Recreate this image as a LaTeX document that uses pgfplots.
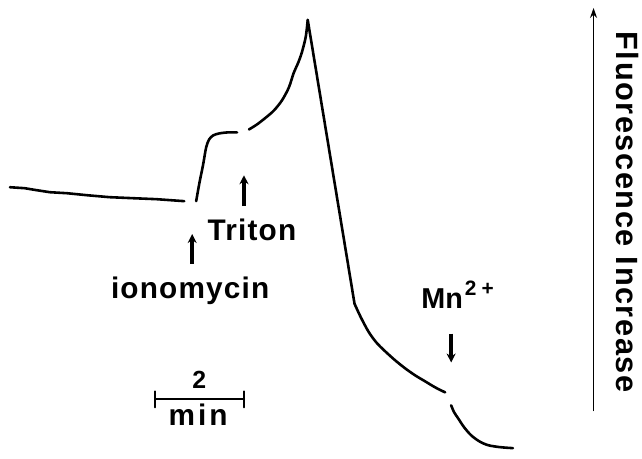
\documentclass[border=0pt]{standalone}
\usepackage{fontspec}
\setmainfont{Liberation Sans}
\usepackage{pgfplots}
\pgfplotsset{compat=1.18}
\usetikzlibrary{arrows.meta}
\begin{document}
\begin{tikzpicture}
\begin{axis}[
  scale only axis, width=642bp, height=460bp,
  xmin=0, xmax=642, ymin=0, ymax=460, y dir=reverse,
  hide axis, clip=false,
]
\path (rel axis cs:0,0) rectangle (rel axis cs:1,1);
\pgfplotsset{tr/.style={black, line width=2.6bp, line cap=round, line join=round, mark=none}}
% baseline
\addplot[tr] coordinates {(10,188) (25,189) (37,191) (50,193) (67,194) (87,196) (110,198) (133,199) (157,200) (185,202)};
% ionomycin rise
\addplot[tr, smooth, tension=0.5] coordinates {(197,202) (200,185) (204,165) (207,148) (210,140) (214,136) (220,134) (228,133) (238,133)};
% triton rise to peak
\addplot[tr, smooth, tension=0.5] coordinates {(250,130) (258,125) (267,118) (275,111) (283,101) (290,88) (295,73) (299,64) (303,53) (307,37) (309,20)};
% drop
\addplot[tr] coordinates {(309,20) (356,305)};
\addplot[tr, smooth, tension=0.5] coordinates {(356,305) (362,318) (370,333) (378,344) (387,353) (397,362) (407,370) (417,377) (427,383) (437,389) (447,394)};
% after Mn
\addplot[tr, smooth, tension=0.5] coordinates {(453,407) (456,414) (460,420) (466,429) (473,437) (481,443) (490,447) (502,449) (515,450)};
% scale bar
\addplot[tr, line width=2.2bp] coordinates {(156,401) (245,401)};
\addplot[tr, line width=2.2bp] coordinates {(156,393) (156,409)};
\addplot[tr, line width=2.2bp] coordinates {(245,393) (245,409)};
% event arrows
\draw[black, line width=3.6bp, -{Stealth[length=9bp,width=9bp]}] (axis cs:245,207) -- (axis cs:245,176);
\draw[black, line width=3.6bp, -{Stealth[length=9bp,width=9bp]}] (axis cs:193,265) -- (axis cs:193,235);
\draw[black, line width=3.6bp, -{Stealth[length=9bp,width=9bp]}] (axis cs:453,335) -- (axis cs:453,364);
\draw[black, line width=1.6bp, -{Stealth[length=10bp,width=7bp]}] (axis cs:596,413) -- (axis cs:596,8);
% labels
\node[font=\fontsize{30}{34}\selectfont\bfseries\addfontfeatures{LetterSpace=4}] at (axis cs:253,231) {Triton};
\node[font=\fontsize{30}{34}\selectfont\bfseries\addfontfeatures{LetterSpace=4}] at (axis cs:191,292) {ionomycin};
\node[font=\fontsize{29}{34}\selectfont\bfseries, anchor=base west, inner sep=0pt] at (axis cs:423,310) {Mn\hspace{2bp}\raisebox{13bp}{\fontsize{21}{22}\selectfont\bfseries 2\hspace{5bp}+}};
\node[font=\fontsize{25}{28}\selectfont\bfseries] at (axis cs:200,381) {2};
\node[font=\fontsize{30}{34}\selectfont\bfseries\addfontfeatures{LetterSpace=10}] at (axis cs:199,416) {min};
\node[font=\fontsize{31}{34}\selectfont\bfseries\addfontfeatures{LetterSpace=5}, rotate=-90] at (axis cs:630,213) {Fluorescence Increase};
\end{axis}
\end{tikzpicture}
\end{document}
